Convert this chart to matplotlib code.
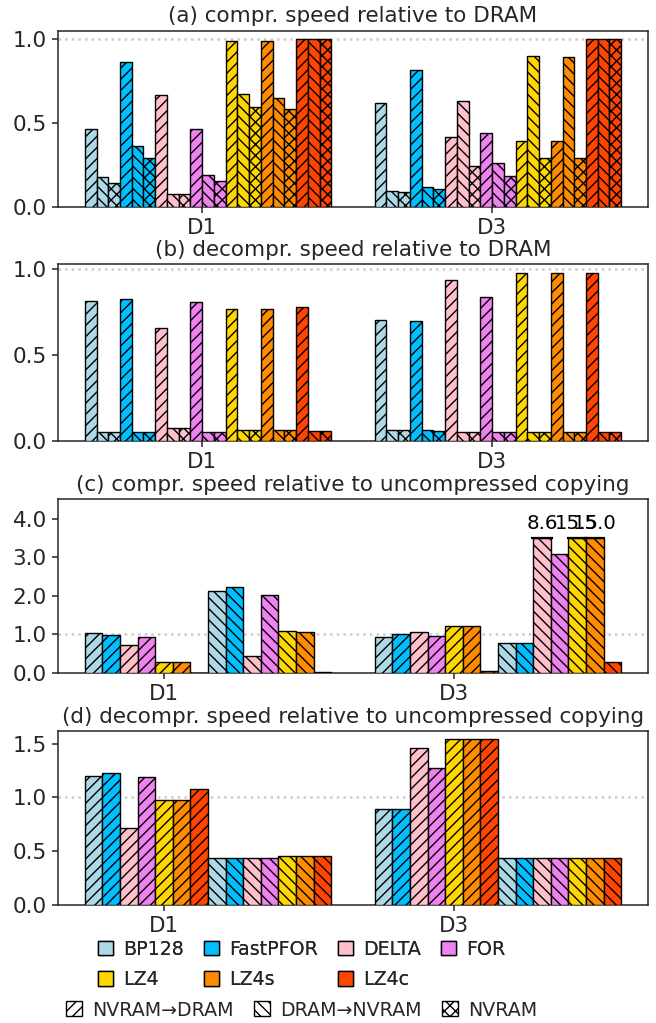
import matplotlib
matplotlib.use('Agg')
import matplotlib.pyplot as plt
from matplotlib.patches import Patch

# ---------------- data ----------------
algorithms = ['BP128', 'FastPFOR', 'DELTA', 'FOR', 'LZ4', 'LZ4s', 'LZ4c']
colors = ['#add8e6', '#00bfff', '#ffc0cb', '#ee82ee', '#ffd700', '#ff8c00', '#ff4500']
datasets = ['D1', 'D3']
variants = ['NVRAM→DRAM', 'DRAM→NVRAM', 'NVRAM']
hatches = ['///', '\\\\\\', 'xxx']

titles = ['(a) compr. speed relative to DRAM',
          '(b) decompr. speed relative to DRAM',
          '(c) compr. speed relative to uncompressed copying',
          '(d) decompr. speed relative to uncompressed copying']

# (a) compression speed relative to DRAM
a_D1_n2d = [0.46, 0.86, 0.667, 0.46, 0.986, 0.986, 1.0]
a_D1_d2n = [0.177, 0.363, 0.077, 0.19, 0.673, 0.649, 1.0]
a_D1_nv = [0.139, 0.288, 0.074, 0.151, 0.592, 0.58, 1.0]
a_D3_n2d = [0.617, 0.812, 0.415, 0.439, 0.389, 0.389, 1.0]
a_D3_d2n = [0.095, 0.119, 0.627, 0.262, 0.895, 0.893, 1.0]
a_D3_nv = [0.086, 0.105, 0.24, 0.181, 0.288, 0.288, 1.0]

# (b) decompression speed relative to DRAM
b_D1_n2d = [0.814, 0.822, 0.659, 0.808, 0.767, 0.767, 0.779]
b_D1_d2n = [0.056, 0.056, 0.079, 0.056, 0.067, 0.068, 0.06]
b_D1_nv = [0.056, 0.056, 0.076, 0.054, 0.064, 0.066, 0.06]
b_D3_n2d = [0.703, 0.695, 0.934, 0.837, 0.977, 0.977, 0.977]
b_D3_d2n = [0.064, 0.064, 0.054, 0.054, 0.052, 0.052, 0.052]
b_D3_nv = [0.064, 0.062, 0.056, 0.056, 0.052, 0.052, 0.052]

# (c) compression speed relative to uncompressed copying
c_D1_n2d = [1.03, 0.98, 0.715, 0.93, 0.293, 0.293, 0.01]
c_D1_d2n = [2.12, 2.22, 0.45, 2.03, 1.09, 1.05, 0.02]
c_D3_n2d = [0.92, 1.0, 1.07, 0.965, 1.23, 1.23, 0.04]
c_D3_d2n = [0.77, 0.78, 8.6, 3.085, 15.5, 15.0, 0.275]
c_clip = 3.5

# (d) decompression speed relative to uncompressed copying
d_D1_n2d = [1.202, 1.224, 0.712, 1.19, 0.979, 0.979, 1.075]
d_D1_d2n = [0.435, 0.432, 0.438, 0.438, 0.454, 0.454, 0.454]
d_D3_n2d = [0.895, 0.889, 1.463, 1.271, 1.544, 1.544, 1.544]
d_D3_d2n = [0.432, 0.432, 0.438, 0.438, 0.435, 0.435, 0.435]

# ---------------- style ----------------
TXT = '#262626'
plt.rcParams.update({
    'font.family': ['DejaVu Sans'],
    'text.color': TXT,
    'axes.labelcolor': TXT,
    'xtick.color': TXT,
    'ytick.color': TXT,
    'axes.edgecolor': TXT,
    'axes.linewidth': 1.1,
    'xtick.major.width': 1.1,
    'ytick.major.width': 1.1,
    'xtick.major.size': 4.5,
    'ytick.major.size': 4.5,
    'hatch.linewidth': 1.0,
})
FS = 15.5
LFS = 13.7

fig = plt.figure(figsize=(6.56, 10.23), dpi=100)
W = 656.0
H = 1023.0
boxes = [(30.7, 206.7), (264.3, 441.3), (499.3, 673.0), (731.0, 904.7)]
axes = []
for top, bot in boxes:
    ax = fig.add_axes([58 / W, 1 - bot / H, 590 / W, (bot - top) / H])
    axes.append(ax)

EDGE = dict(edgecolor='black', linewidth=1.0)


def draw_three(ax, series):
    # series[d][v] -> list over algorithms; 21 bars per dataset
    n = 21
    w = 0.85 / n
    for g, per_var in enumerate(series):
        for ai in range(len(algorithms)):
            for vi in range(3):
                k = ai * 3 + vi
                ax.bar(g + (k - 10) * w, per_var[vi][ai], width=w, align='edge',
                       color=colors[ai], hatch=hatches[vi], zorder=3, **EDGE)


def draw_two(ax, series, clip=None):
    n = 14
    w = 0.85 / n
    for g, per_var in enumerate(series):
        for vi in range(2):
            for ai in range(len(algorithms)):
                k = vi * 7 + ai
                x = g + (k - 4) * w
                v = per_var[vi][ai]
                hv = v if clip is None else min(v, clip)
                ax.bar(x, hv, width=w, align='center', color=colors[ai],
                       hatch=hatches[vi], zorder=3, **EDGE)
                if clip is not None and v > clip:
                    ax.plot([x - 0.6 * w, x + 0.6 * w], [clip, clip], color='black',
                            lw=1.6, zorder=4, solid_capstyle='butt')
                    ax.text(x, clip + 0.12, f'{v:.1f}', ha='center', va='bottom',
                            fontsize=LFS + 0.5, color='black', zorder=5)


draw_three(axes[0], [[a_D1_n2d, a_D1_d2n, a_D1_nv], [a_D3_n2d, a_D3_d2n, a_D3_nv]])
draw_three(axes[1], [[b_D1_n2d, b_D1_d2n, b_D1_nv], [b_D3_n2d, b_D3_d2n, b_D3_nv]])
draw_two(axes[2], [[c_D1_n2d, c_D1_d2n], [c_D3_n2d, c_D3_d2n]], clip=c_clip)
draw_two(axes[3], [[d_D1_n2d, d_D1_d2n], [d_D3_n2d, d_D3_d2n]])

ylims = [(0, 1.048), (0, 1.026), (0, 4.5), (0, 1.62)]
yticks = [[0, 0.5, 1.0], [0, 0.5, 1.0], [0, 1, 2, 3, 4], [0, 0.5, 1.0, 1.5]]
for ax, t, yl, yt in zip(axes, titles, ylims, yticks):
    ax.set_title(t, fontsize=FS, color=TXT, pad=6)
    ax.set_xticks(range(len(datasets)))
    ax.set_xticklabels(datasets)
    ax.set_yticks(yt)
    ax.set_yticklabels([f'{v:.1f}' for v in yt])
    ax.tick_params(labelsize=FS)
    ax.set_ylim(*yl)
    ax.axhline(1.0, color='#cccccc', ls=':', lw=1.8, zorder=1)
    ax.set_ylim(*yl)

# ---------------- legends ----------------
alg_handles = [Patch(facecolor=c, edgecolor='black', linewidth=1.0, label=a)
               for a, c in zip(algorithms, colors)]
# legend fills column by column; reorder so that rows read in algorithm order
ncol1 = 4
order = [0, 4, 1, 5, 2, 6, 3]
alg_handles_ordered = [alg_handles[i] for i in order]
var_handles = [Patch(facecolor='white', edgecolor='black', linewidth=1.0, hatch=h, label=v)
               for v, h in zip(variants, hatches)]

leg1 = fig.legend(handles=alg_handles_ordered, ncol=ncol1, loc='center',
                  bbox_to_anchor=(301.5 / W, 1 - 964.5 / H), frameon=False,
                  fontsize=LFS, handlelength=0.8, handleheight=0.8,
                  handletextpad=0.53, columnspacing=1.05, labelspacing=0.6,
                  borderpad=0.2)
leg2 = fig.legend(handles=var_handles, ncol=3, loc='center',
                  bbox_to_anchor=(301.5 / W, 1 - 1010.0 / H), frameon=False,
                  fontsize=LFS, handlelength=0.85, handleheight=0.85,
                  handletextpad=0.53, columnspacing=1.05, borderpad=0.2)
fig.add_artist(leg1)

fig.savefig('out.png', dpi=100)
